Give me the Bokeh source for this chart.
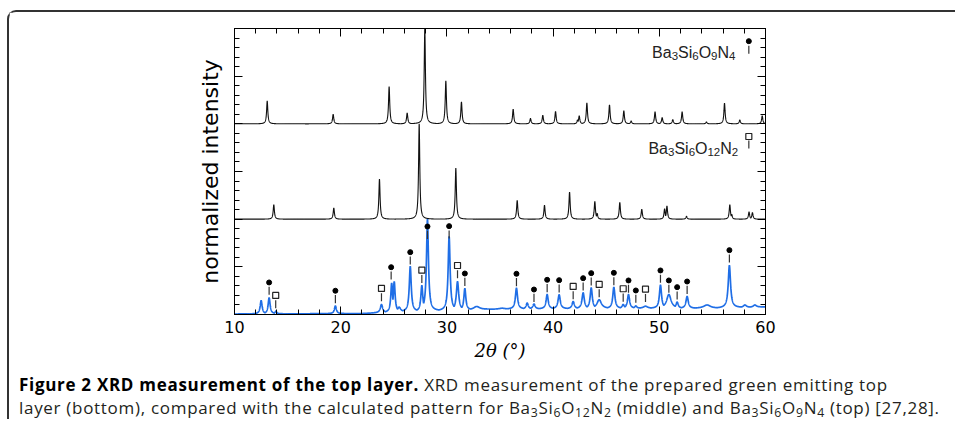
import numpy as np
from bokeh.plotting import figure
from bokeh.models import Range1d, LinearAxis, SingleIntervalTicker, Div, CustomJSTickFormatter
from bokeh.layouts import column
from bokeh.core.properties import value
from bokeh.embed import file_html
from bokeh.resources import INLINE

# ---------------- data ----------------
# calculated pattern Ba3Si6O9N4 (top panel): peak position (deg), relative height
top_pos = [13.08, 19.29, 24.56, 26.26, 27.92, 29.9, 31.37, 36.24, 37.87, 39.03, 40.23,
           42.3, 42.46, 43.18, 45.31, 46.66, 47.35, 49.6, 50.27, 51.27, 52.15, 54.44,
           56.14, 57.58, 59.69]
top_hgt = [0.24, 0.10, 0.39, 0.115, 1.0, 0.45, 0.23, 0.155, 0.056, 0.09, 0.13,
           0.04, 0.084, 0.22, 0.20, 0.137, 0.03, 0.126, 0.066, 0.045, 0.126, 0.02,
           0.217, 0.04, 0.084]

# calculated pattern Ba3Si6O12N2 (middle panel)
mid_pos = [13.7, 19.35, 23.65, 27.39, 30.84, 36.62, 39.19, 41.55, 43.93, 44.15,
           46.28, 48.35, 50.5, 50.72, 52.56, 56.64, 56.82, 58.45, 58.77]
mid_hgt = [0.153, 0.118, 0.42, 1.0, 0.535, 0.198, 0.146, 0.285, 0.187, 0.06,
           0.177, 0.104, 0.11, 0.139, 0.03, 0.153, 0.05, 0.076, 0.07]

# measured pattern of the top layer (bottom panel): peak position, tip height, half width
meas_pos = [12.51, 13.26, 13.9, 19.5, 23.84, 24.8, 25.04, 25.5, 26.55, 27.64, 28.17,
            30.21, 31.0, 31.69, 32.8, 35.2, 36.55, 37.56, 38.2, 39.44, 40.57, 41.89,
            42.83, 43.59, 44.34, 45.72, 46.6, 47.1, 47.79, 48.7, 50.11, 50.9, 51.68,
            52.62, 54.5, 56.6, 58.06, 59.0]
meas_hgt = [0.147, 0.176, 0.035, 0.09, 0.105, 0.33, 0.347, 0.077, 0.505, 0.305, 1.0,
            0.82, 0.347, 0.274, 0.084, 0.066, 0.277, 0.12, 0.11, 0.21, 0.207, 0.137,
            0.228, 0.28, 0.155, 0.287, 0.105, 0.21, 0.09, 0.087, 0.31, 0.21, 0.13,
            0.19, 0.10, 0.515, 0.10, 0.10]
meas_hw = [0.11, 0.11, 0.1, 0.11, 0.13, 0.1, 0.1, 0.18, 0.11, 0.11, 0.11,
           0.11, 0.13, 0.11, 0.35, 0.35, 0.12, 0.12, 0.13, 0.12, 0.13, 0.13,
           0.13, 0.12, 0.25, 0.12, 0.13, 0.12, 0.13, 0.25, 0.12, 0.25, 0.13,
           0.13, 0.4, 0.13, 0.18, 0.18]
# background of the measured pattern
bg_x = [10, 22, 26, 30, 34, 40, 48, 55, 60]
bg_y = [0.005, 0.01, 0.03, 0.04, 0.055, 0.06, 0.065, 0.065, 0.08]

# phase markers above the measured peaks
circ_x = [13.26, 19.5, 24.75, 26.55, 28.17, 30.21, 31.69, 36.55, 38.2, 39.44, 40.57,
          42.83, 43.59, 45.72, 47.1, 47.79, 50.11, 50.9, 51.68, 52.62, 56.6]
circ_y = [0.336, 0.249, 0.496, 0.654, 0.923, 0.927, 0.43, 0.427, 0.262, 0.364, 0.36,
          0.381, 0.434, 0.437, 0.357, 0.252, 0.462, 0.357, 0.287, 0.346, 0.675]
sq_x = [13.88, 23.84, 27.64, 31.0, 41.89, 44.34, 46.6, 48.7]
sq_y = [0.2, 0.273, 0.465, 0.514, 0.294, 0.315, 0.27, 0.266]

# formula labels, split into (text, is_subscript) pieces
lab_top = [("Ba", False), ("3", True), ("Si", False), ("6", True), ("O", False), ("9", True),
           ("N", False), ("4", True)]
lab_mid = [("Ba", False), ("3", True), ("Si", False), ("6", True), ("O", False), ("12", True),
           ("N", False), ("2", True)]

# ---------------- build curves from the peak tables ----------------
grid = np.linspace(10, 60, 5001)


def pattern(pos, hgt, hw, offset, base=None):
    b = np.zeros_like(grid) if base is None else base
    peaks = np.zeros_like(grid)
    for p0, h0, w0 in zip(pos, hgt, hw):
        b0 = 0.0 if base is None else float(np.interp(p0, bg_x, bg_y))
        peaks = np.maximum(peaks, (h0 - b0) / (1.0 + ((grid - p0) / w0) ** 2))
    return b + peaks + offset


y_top = pattern(top_pos, top_hgt, [0.068] * len(top_pos), 2.0)
y_mid = pattern(mid_pos, mid_hgt, [0.068] * len(mid_pos), 1.0)
y_meas = pattern(meas_pos, meas_hgt, meas_hw, 0.0, base=np.interp(grid, bg_x, bg_y))

# ---------------- figure ----------------
p = figure(width=937, height=352, x_range=Range1d(10, 60), y_range=Range1d(0, 3),
           output_backend="svg", toolbar_location=None,
           min_border_left=225, min_border_right=181, min_border_top=16, min_border_bottom=50,
           x_axis_label="2θ (°)", y_axis_label="normalized intensity")
p.xgrid.visible = False
p.ygrid.visible = False
p.outline_line_color = "black"
p.background_fill_color = "white"
p.border_fill_color = "white"

p.add_layout(LinearAxis(), "above")
p.add_layout(LinearAxis(), "right")

for ax in p.xaxis:
    ax.ticker = SingleIntervalTicker(interval=10, num_minor_ticks=5)
for ax in p.yaxis:
    ax.ticker = SingleIntervalTicker(interval=0.5, num_minor_ticks=5)

for ax in p.axis:
    ax.axis_line_color = "black"
    ax.axis_line_width = 1
    ax.major_tick_in = 8
    ax.major_tick_out = 0
    ax.minor_tick_in = 5
    ax.minor_tick_out = 0
    ax.major_tick_line_color = "black"
    ax.minor_tick_line_color = "black"
    ax.major_label_text_font = "DejaVu Sans"
    ax.major_label_text_font_size = "16px"
    ax.major_label_text_color = "black"

# no tick labels on the left, right and top axes
for ax in list(p.yaxis) + [p.above[0]]:
    ax.formatter = CustomJSTickFormatter(code="return '';")
    ax.major_label_standoff = 0

bx = p.below[0]
bx.major_label_standoff = 6
bx.axis_label_text_font = "DejaVu Serif"
bx.axis_label_text_font_style = "italic"
bx.axis_label_text_font_size = "18px"
bx.axis_label_text_color = "black"
bx.axis_label_standoff = 4

ly = p.left[0]
ly.axis_label_text_font = "DejaVu Sans"
ly.axis_label_text_font_style = "normal"
ly.axis_label_text_font_size = "22px"
ly.axis_label_text_color = "black"
ly.axis_label_standoff = 12

# curves
p.line(grid, y_meas, line_color="#1f6ee6", line_width=1.7)
p.line(grid, y_mid, line_color="#111111", line_width=1.1)
p.line(grid, y_top, line_color="#111111", line_width=1.1)

# phase markers with short bars below
cy = np.array(circ_y)
sy = np.array(sq_y)
p.segment(x0=circ_x, y0=cy - 0.045, x1=circ_x, y1=cy - 0.13, line_color="#333333", line_width=1.2)
p.segment(x0=sq_x, y0=sy - 0.05, x1=sq_x, y1=sy - 0.135, line_color="#333333", line_width=1.2)
p.scatter(circ_x, circ_y, marker="circle", size=5, fill_color="black", line_color="black")
p.scatter(sq_x, sy, marker="square", size=6, fill_color="white", line_color="#222222", line_width=1.2)

# formula labels drawn piece by piece (Liberation Sans = Arial metrics)
ADV = {"B": 0.667, "a": 0.556, "S": 0.667, "i": 0.222, "O": 0.778, "N": 0.722}
MAIN_PX, SUB_PX = 16.0, 11.5


def draw_formula(pieces, x_right, y_base):
    widths = []
    for t, sub in pieces:
        size = SUB_PX if sub else MAIN_PX
        widths.append(sum(ADV.get(ch, 0.556) for ch in t) * size)
    total = sum(widths)
    xo = -total
    for (t, sub), w in zip(pieces, widths):
        p.text(x=[x_right], y=[y_base], text=[t], x_offset=xo, y_offset=3.5 if sub else 0,
               text_align="left", text_baseline="alphabetic",
               text_font=value("Liberation Sans"),
               text_font_size=f"{SUB_PX if sub else MAIN_PX}px", text_color="#222222")
        xo += w


draw_formula(lab_top, 57.17, 2.745)
draw_formula(lab_mid, 57.43, 1.745)
p.segment(x0=[58.43], y0=[2.82], x1=[58.43], y1=[2.735], line_color="#333333", line_width=1.2)
p.scatter([58.43], [2.867], marker="circle", size=5, fill_color="black", line_color="black")
p.segment(x0=[58.43], y0=[1.825], x1=[58.43], y1=[1.741], line_color="#333333", line_width=1.2)
p.scatter([58.43], [1.867], marker="square", size=6, fill_color="white", line_color="#222222", line_width=1.2)

SUB = "<sub style='font-size:72%;line-height:0;vertical-align:-0.22em'>{}</sub>"
caption = Div(
    text=("<b style='color:#000'>Figure 2 XRD measurement of the top layer.</b> XRD measurement of the "
          "prepared green emitting top<br>layer (bottom), compared with the calculated pattern for "
          "Ba" + SUB.format(3) + "Si" + SUB.format(6) + "O" + SUB.format(12) + "N" + SUB.format(2)
          + " (middle) and "
          "Ba" + SUB.format(3) + "Si" + SUB.format(6) + "O" + SUB.format(9) + "N" + SUB.format(4)
          + " (top) [27,28]."),
    width=936, margin=(9, 0, 0, 10),
    styles={"font-family": "Open Sans", "font-size": "17px", "line-height": "23px",
            "letter-spacing": "0.7px", "white-space": "nowrap", "color": "#231f20"},
)

layout = column(p, caption, margin=(10, 0, 0, 7),
                styles={"border-top": "2px solid #333", "border-left": "2px solid #333",
                        "border-top-left-radius": "9px", "background": "white"})

open("out.html", "w").write(file_html(layout, INLINE))
